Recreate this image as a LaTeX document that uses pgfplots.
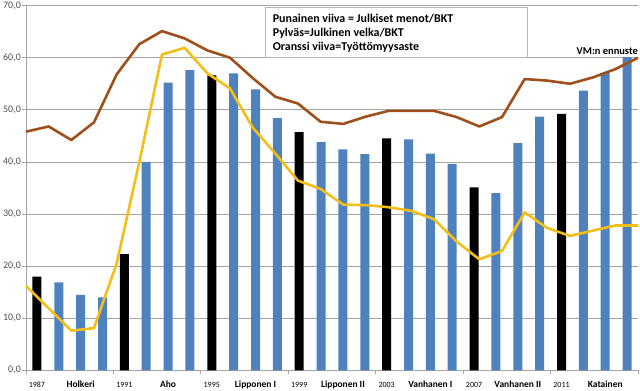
\documentclass[border=0pt]{standalone}
\usepackage{fontspec}
\setmainfont{Carlito}
\usepackage{pgfplots}
\pgfplotsset{compat=1.18}
\definecolor{barblue}{RGB}{79,129,189}
\definecolor{redl}{RGB}{158,80,28}
\definecolor{yell}{RGB}{244,190,24}
\definecolor{gridc}{RGB}{165,165,165}
\definecolor{labc}{RGB}{80,80,80}
\begin{document}
\begin{tikzpicture}
\useasboundingbox (-26bp,-20.7bp) rectangle (614bp,370.3bp);
\begin{axis}[
  at={(0,0)}, anchor=south west, scale only axis,
  width=612bp, height=364.7bp,
  xmin=-0.5, xmax=27.5, ymin=0, ymax=70,
  axis x line*=bottom, axis y line*=left,
  axis line style={gridc, line width=0.8bp},
  ytick={0,10,...,70},
  yticklabels={{0,0},{10,0},{20,0},{30,0},{40,0},{50,0},{60,0},{70,0}},
  yticklabel style={font=\fontsize{10}{10}\selectfont, text=labc, inner sep=1bp},
  ymajorgrids, major grid style={gridc, line width=0.8bp},
  ytick style={draw=gridc, line width=0.8bp},
  tick align=outside, major tick length=4bp,
  xtick={0,2,...,26},
  xticklabels={{\fontsize{8}{8}\selectfont 1987},{\bfseries Holkeri},{\fontsize{8}{8}\selectfont 1991},{\bfseries Aho},{\fontsize{8}{8}\selectfont 1995},{\bfseries Lipponen I},{\fontsize{8}{8}\selectfont 1999},{\bfseries Lipponen II},{\fontsize{8}{8}\selectfont 2003},{\bfseries Vanhanen I},{\fontsize{8}{8}\selectfont 2007},{\bfseries Vanhanen II},{\fontsize{8}{8}\selectfont 2011},{\bfseries Katainen}},
  xticklabel style={font=\fontsize{9.5}{9.5}\selectfont, anchor=base, inner sep=0pt, yshift=-13bp},
  xtick style={draw=none},
  extra x ticks={-0.5,3.5,7.5,11.5,15.5,19.5,23.5,27.5},
  extra x tick labels={},
  extra x tick style={xtick style={draw=gridc, line width=0.8bp}, grid=none},
]
\addplot[ybar, bar width=9bp, bar shift=0pt, fill=barblue, draw=none] coordinates {
 (1,16.9) (2,14.5) (3,14.0) (5,40.0) (6,55.2) (7,57.6) (9,57.0) (10,53.9) (11,48.4)
 (13,43.8) (14,42.4) (15,41.5) (17,44.3) (18,41.6) (19,39.6) (21,34.0) (22,43.6) (23,48.7)
 (25,53.7) (26,57.1) (27,60.1)};
\addplot[ybar, bar width=9bp, bar shift=0pt, fill=black, draw=none] coordinates {
 (0,18.0) (4,22.3) (8,56.6) (12,45.7) (16,44.5) (20,35.1) (24,49.2)};
\end{axis}
\begin{axis}[
  at={(0,0)}, anchor=south west, scale only axis,
  width=612bp, height=364.7bp,
  xmin=0, xmax=27, ymin=0, ymax=70,
  hide axis, clip=false,
]
\addplot[redl, line width=2.6bp, line join=round] table {
x y
0 45.8
1 46.8
2 44.2
3 47.6
4 56.8
5 62.6
6 65.1
7 63.7
8 61.4
9 60.0
10 56.1
11 52.5
12 51.2
13 47.7
14 47.3
15 48.7
16 49.8
17 49.8
18 49.8
19 48.6
20 46.8
21 48.6
22 55.9
23 55.6
24 55.0
25 56.2
26 57.8
27 60.0
};
\addplot[yell, line width=2.6bp, line join=round] table {
x y
0 16.2
1 11.9
2 7.6
3 8.1
4 20.5
5 40.0
6 60.6
7 61.9
8 57.0
9 54.1
10 46.6
11 41.6
12 36.4
13 34.8
14 31.8
15 31.7
16 31.3
17 30.6
18 29.0
19 24.7
20 21.3
21 22.9
22 30.3
23 27.3
24 25.8
25 26.8
26 27.8
27 27.8
};
\draw[gridc!80, fill=white, line width=0.6bp] (axis cs:10.54,69.73) rectangle (axis cs:22.10,60.13);
\node[anchor=base west, inner sep=0pt, font=\fontsize{12}{12}\selectfont\bfseries] at (axis cs:10.88,66.85) {Punainen viiva = Julkiset menot/BKT};
\node[anchor=base west, inner sep=0pt, font=\fontsize{12}{12}\selectfont\bfseries] at (axis cs:10.88,64.1) {Pylväs=Julkinen velka/BKT};
\node[anchor=base west, inner sep=0pt, font=\fontsize{12}{12}\selectfont\bfseries] at (axis cs:10.88,61.4) {Oranssi viiva=Työttömyysaste};
\node[anchor=base east, inner sep=0pt, font=\fontsize{10.5}{10.5}\selectfont\bfseries] at (axis cs:27,60.7) {VM:n ennuste};
\end{axis}
\end{tikzpicture}
\end{document}
